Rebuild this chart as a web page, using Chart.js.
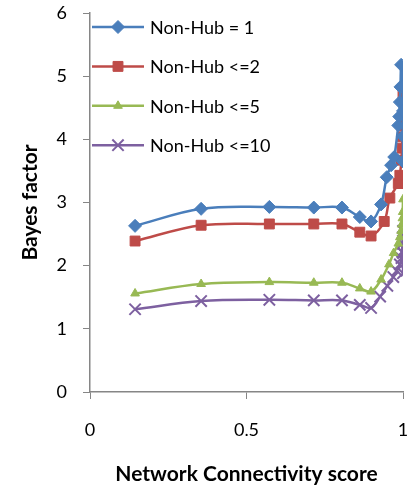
<!DOCTYPE html>
<html>
<head>
<meta charset="utf-8">
<script src="https://cdn.jsdelivr.net/npm/chart.js@4/dist/chart.umd.min.js"></script>
<style>
  body { margin: 0; background: #fff; }
  #wrap { width: 409px; height: 495px; }
</style>
</head>
<body>
<div id="wrap"><canvas id="chart" width="409" height="495"></canvas></div>
<script>
// Datos (x = score de conectividad, y = Bayes factor)
const seriesNames = ['Non-Hub = 1', 'Non-Hub <=2', 'Non-Hub <=5', 'Non-Hub <=10'];

const hub1X = [0.144, 0.355, 0.573, 0.715, 0.805, 0.862, 0.898, 0.93, 0.948, 0.962, 0.972, 0.985, 0.988, 0.99, 0.992, 0.994, 1.0, 1.0, 1.0, 1.0];
const hub1Y = [2.63, 2.90, 2.93, 2.92, 2.92, 2.77, 2.70, 2.97, 3.40, 3.59, 3.72, 4.22, 4.36, 4.59, 4.83, 5.18, 4.85, 4.45, 4.05, 3.65];

const hub2X = [0.144, 0.355, 0.573, 0.715, 0.805, 0.862, 0.898, 0.94, 0.958, 0.985, 0.99, 0.995, 0.997, 0.998, 0.999, 1.0, 1.0];
const hub2Y = [2.39, 2.64, 2.66, 2.66, 2.66, 2.53, 2.47, 2.70, 3.07, 3.30, 3.43, 3.67, 3.86, 4.04, 4.22, 4.38, 4.72];

const hub5X = [0.144, 0.355, 0.573, 0.715, 0.805, 0.862, 0.898, 0.93, 0.955, 0.97, 0.985, 0.99, 0.994, 0.996, 0.998, 0.999, 1.0];
const hub5Y = [1.56, 1.71, 1.74, 1.73, 1.73, 1.64, 1.59, 1.78, 2.02, 2.20, 2.35, 2.45, 2.55, 2.65, 2.75, 2.85, 3.05];

const hub10X = [0.144, 0.355, 0.573, 0.715, 0.805, 0.862, 0.898, 0.927, 0.95, 0.969, 0.98, 0.99, 0.995, 0.997, 0.998, 0.999, 1.0, 1.0, 1.0];
const hub10Y = [1.31, 1.44, 1.46, 1.45, 1.45, 1.38, 1.33, 1.51, 1.68, 1.82, 1.92, 2.02, 2.12, 2.22, 2.35, 2.45, 2.55, 2.20, 1.88];

const xTicks = [0, 0.5, 1];
const yTicks = [0, 1, 2, 3, 4, 5, 6];

const colors = ['#4A7EBB', '#BE4B48', '#98B954', '#7D60A0'];
const styles = ['rectRot', 'rect', 'triangle', 'crossRot'];
const radios = [6.5, 7, 5, 8];

function toPoints(xs, ys) {
  return xs.map((x, i) => ({ x: x, y: ys[i] }));
}

const allData = [
  toPoints(hub1X, hub1Y),
  toPoints(hub2X, hub2Y),
  toPoints(hub5X, hub5Y),
  toPoints(hub10X, hub10Y)
];

const datasets = allData.map((pts, i) => ({
  label: seriesNames[i],
  data: pts,
  showLine: true,
  borderColor: colors[i],
  backgroundColor: colors[i],
  borderWidth: 2.5,
  tension: 0.35,
  pointStyle: styles[i],
  pointRadius: radios[i],
  pointBorderWidth: i === 3 ? 2 : 1,
  pointBorderColor: colors[i],
  pointBackgroundColor: colors[i]
}));

// Leyenda dibujada dentro del area del grafico (arriba a la izquierda)
const insideLegend = {
  id: 'insideLegend',
  afterDraw(chart) {
    const ctx = chart.ctx;
    chart.data.datasets.forEach((ds, i) => {
      const y = 27 + i * 39.4;
      ctx.save();
      ctx.strokeStyle = ds.borderColor;
      ctx.lineWidth = 2.5;
      ctx.beginPath();
      ctx.moveTo(92, y);
      ctx.lineTo(144, y);
      ctx.stroke();
      ctx.fillStyle = ds.pointBackgroundColor;
      ctx.strokeStyle = ds.pointBorderColor;
      ctx.lineWidth = ds.pointBorderWidth;
      Chart.helpers.drawPoint(ctx, {
        pointStyle: ds.pointStyle,
        radius: ds.pointRadius,
        borderWidth: ds.pointBorderWidth
      }, 118, y);
      ctx.fillStyle = '#000';
      ctx.font = '18px Lato';
      ctx.textBaseline = 'middle';
      ctx.textAlign = 'left';
      ctx.fillText(ds.label, 150, y + 1);
      ctx.restore();
    });
  }
};

const ctx = document.getElementById('chart').getContext('2d');
new Chart(ctx, {
  type: 'scatter',
  data: { datasets: datasets },
  options: {
    responsive: false,
    animation: false,
    layout: { autoPadding: false, padding: { top: 13, right: 6, left: 0, bottom: 0 } },
    plugins: {
      legend: { display: false },
      tooltip: { enabled: false }
    },
    scales: {
      x: {
        type: 'linear',
        min: 0,
        max: 1,
        afterBuildTicks: (scale) => { scale.ticks = xTicks.map(v => ({ value: v })); },
        afterFit: (scale) => {
          scale.height = 103;
          scale.paddingLeft = 0;
          scale.paddingRight = 0;
        },
        border: { color: '#868686', width: 1.5 },
        grid: { drawOnChartArea: false, drawTicks: true, tickLength: 7, color: '#868686' },
        ticks: {
          color: '#000',
          font: { family: 'Lato', size: 18 },
          padding: 20,
          maxRotation: 0,
          callback: (v) => String(v)
        },
        title: {
          display: true,
          text: 'Network Connectivity score',
          color: '#000',
          font: { family: 'Lato', size: 21, weight: 'bold' },
          padding: { top: 0, bottom: 8 }
        }
      },
      y: {
        type: 'linear',
        min: 0,
        max: 6,
        afterBuildTicks: (scale) => { scale.ticks = yTicks.map(v => ({ value: v })); },
        afterFit: (scale) => {
          scale.width = 90;
          scale.paddingTop = 0;
          scale.paddingBottom = 0;
        },
        border: { color: '#868686', width: 1.5 },
        grid: { drawOnChartArea: false, drawTicks: true, tickLength: 7, color: '#868686' },
        ticks: { color: '#000', font: { family: 'Lato', size: 18 }, padding: 16, callback: (v) => String(v) },
        title: {
          display: true,
          text: 'Bayes factor',
          color: '#000',
          font: { family: 'Lato', size: 21, weight: 'bold' },
          padding: { top: 18, bottom: 0 }
        }
      }
    }
  },
  plugins: [insideLegend]
});
</script>
</body>
</html>
